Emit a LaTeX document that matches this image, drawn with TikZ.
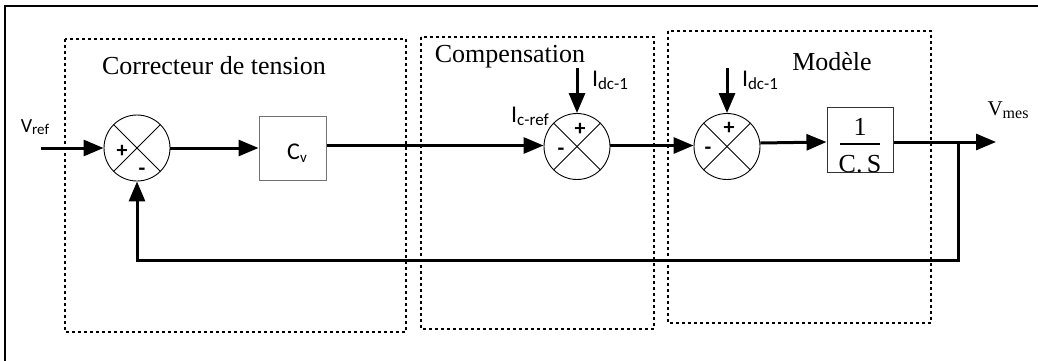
\documentclass[tikz,border=0pt]{standalone}
\usepackage{fontspec}
\setmainfont{Liberation Serif}
\newfontfamily\calfont{Carlito}
\usetikzlibrary{arrows.meta}
\tikzset{
  grp/.style={line width=1.2pt, dash pattern=on 3pt off 3pt},
  arr/.style={line width=3pt, -{Triangle[length=20pt,width=16pt]}},
  sumnode/.style={circle, draw, line width=0.9pt, minimum size=66pt, inner sep=0pt,
    path picture={\draw[line width=0.9pt] (path picture bounding box.center) ++(45:33pt) -- ++(225:66pt);
                  \draw[line width=0.9pt] (path picture bounding box.center) ++(135:33pt) -- ++(-45:66pt);}},
  blk/.style={draw, line width=1pt, inner sep=0pt},
  ttl/.style={font=\fontsize{26}{30}\selectfont},
  sgn/.style={font=\calfont\fontsize{22}{22}\selectfont\bfseries, inner sep=0pt},
  clab/.style={font=\calfont\fontsize{24}{26}\selectfont, inner sep=0pt}
}
\begin{document}
\begin{tikzpicture}[x=1pt,y=-1pt]
\useasboundingbox (0,0) rectangle (1038,361);
\clip (0,0) rectangle (1038,361);
% outer frame
\draw[line width=2.2pt] (5,6) rectangle (1080,400);
% groups
\draw[grp] (65,39) rectangle (406,332);
\draw[grp] (421,37) rectangle (654,329);
\draw[grp] (668,31) rectangle (931,323);
\node[ttl] (t1) at (214,66) {Correcteur de tension};
\node[ttl] (t2) at (510,57) {Compensation};
\node[ttl] (t3) at (832,62) {Modèle};
% blocks
\node[sumnode] (s1) at (137,148) {};
\node[blk, draw=black!55, minimum width=67pt, minimum height=64pt] (cv) at (292.5,148) {};
\node[clab] (cvl) at (297,153) {C{\fontsize{15}{16}\selectfont\raisebox{-3pt}{v}}};
\node[sumnode] (s2) at (577,146.5) {};
\node[sumnode] (s3) at (727,146.5) {};
\node[blk, draw=black!80, minimum width=66pt, minimum height=65pt] (g) at (860,139.5) {};
\node[font=\fontsize{26}{28}\selectfont, inner sep=0pt] (num) at (860,127) {1};
\draw[line width=2pt] ([xshift=-20pt]g.center |- num.south) ++(0,8) coordinate (bl) -- ++(40,0) coordinate (br0);
\begin{scope}
\clip (g.south west) rectangle (g.north east);
\node[font=\fontsize{26}{28}\selectfont, inner sep=0pt, anchor=base] (den) at (860,172.5) {C.\,S};
\end{scope}
% signs
\node[sgn] (p1) at (122,151) {+};
\node[sgn] (m1) at (142,172) {-};
\node[sgn] (p2) at (580,129) {+};
\node[sgn] (m2) at (561,152) {-};
\node[sgn] (p3) at (729,128) {+};
\node[sgn] (m3) at (708,151) {-};
% labels
\node[font=\calfont\fontsize{20}{22}\selectfont, inner sep=0pt] (vref) at (35,127) {V{\fontsize{15}{16}\selectfont\raisebox{-2pt}{ref}}};
\node[clab] (icref) at (530,116) {I{\fontsize{17}{18}\selectfont\raisebox{-3pt}{c-ref}}};
\node[clab] (idc2) at (610,80) {I{\fontsize{17}{18}\selectfont\raisebox{-3pt}{dc-1}}};
\node[clab] (idc3) at (760,80) {I{\fontsize{17}{18}\selectfont\raisebox{-3pt}{dc-1}}};
\node[font=\fontsize{21}{22}\selectfont, inner sep=0pt] (vmes) at (1008,110) {V{\fontsize{16}{18}\selectfont\raisebox{-3pt}{mes}}};
% coordinates
\coordinate (in) at (41,148);
\coordinate (d2) at (577,68);
\coordinate (d3) at (727,68);
\coordinate (bp) at (958,142);
\coordinate (out) at (996,142);
\coordinate (fb) at (958,260);
% connectors
\draw[arr] (in) -- (s1.west);
\draw[arr] (s1.east) -- (s1.east -| cv.west);
\draw[arr] ([yshift=2.5pt]cv.east) -- ([yshift=1pt]s2.west);
\draw[arr] ([yshift=1pt]s2.east) -- ([yshift=1pt]s3.west);
\draw[arr] ([yshift=3.5pt]s3.east) -- ([yshift=-2.5pt]g.west);
\draw[arr] (d2) -- (s2.north);
\draw[arr] (d3) -- (s3.north);
\draw[arr] ([yshift=-2.5pt]g.east) -- (out);
\draw[arr] (bp) -- (fb) -| (s1.south);
\end{tikzpicture}
\end{document}
